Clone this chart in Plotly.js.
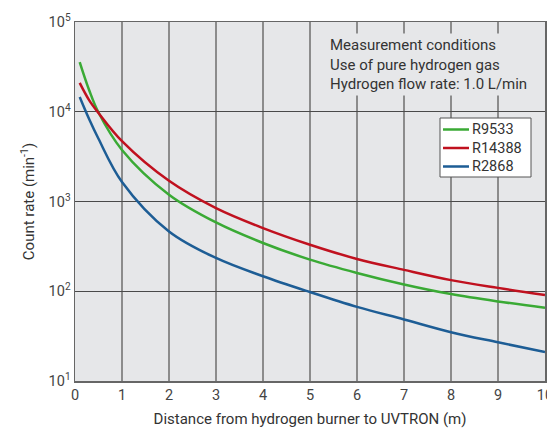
<!DOCTYPE html>
<html>
<head>
<meta charset="utf-8">
<script src="https://cdn.plot.ly/plotly-3.0.1.min.js"></script>
<style>html,body{margin:0;padding:0;background:#fff;}#chart{width:547px;height:430px;}</style>
</head>
<body>
<div id="chart"></div>
<script>
const distance = [0.1, 0.3, 0.5, 1, 2, 3, 4, 5, 6, 7, 8, 9, 10];
const r9533 = [35800, 17500, 9800, 3750, 1190, 584, 345, 225, 160, 119, 93, 77, 65.5];
const r14388 = [21000, 13500, 9700, 4700, 1700, 844, 506, 330, 229, 173, 133, 109, 91];
const r2868 = [14600, 8300, 5000, 1650, 464, 235, 147, 98, 67, 48.5, 35, 27, 21];
const seriesNames = ["R9533", "R14388", "R2868"];
const seriesColors = ["#3aaa35", "#c0111f", "#1d5d95"];
const yTickVals = [10, 100, 1000, 10000, 100000];
const yTickText = ["10<sup>1</sup>", "10<sup>2</sup>", "10<sup>3</sup>", "10<sup>4</sup>", "10<sup>5</sup>"];
const xTickVals = [0, 1, 2, 3, 4, 5, 6, 7, 8, 9, 10];
const noteLines = ["Measurement conditions", "Use of pure hydrogen gas", "Hydrogen flow rate: 1.0 L/min"];

const ys = [r9533, r14388, r2868];
const traces = ys.map((y, i) => ({
  x: distance, y: y, name: seriesNames[i], type: "scatter", mode: "lines",
  line: {color: seriesColors[i], width: 2.5, shape: "spline", smoothing: 1},
  showlegend: false
}));

// manual legend (box position in pixels converted to paper coords)
const L = 75, R = 545, T = 22, B = 381;
const px = v => (v - L) / (R - L);
const py = v => (B - v) / (B - T);
const legendRows = [129.5, 148, 166.5];
const shapes = [{
  type: "rect", xref: "paper", yref: "paper",
  x0: px(440), x1: px(531), y0: py(177), y1: py(118),
  fillcolor: "#ffffff", line: {color: "#555", width: 1}, layer: "above"
}];
const legendAnn = [];
seriesNames.forEach((n, i) => {
  shapes.push({type: "line", xref: "paper", yref: "paper",
    x0: px(443), x1: px(469), y0: py(legendRows[i]), y1: py(legendRows[i]),
    line: {color: seriesColors[i], width: 2.5}, layer: "above"});
  legendAnn.push({xref: "paper", yref: "paper", x: px(470), y: py(legendRows[i]),
    xanchor: "left", yanchor: "middle", text: n, showarrow: false,
    font: {size: 14.5, color: "#333"}});
});

const layout = {
  width: 547, height: 430,
  margin: {l: 75, r: 2, t: 22, b: 49},
  paper_bgcolor: "#ffffff",
  plot_bgcolor: "#e6e7e9",
  font: {family: "Roboto, 'Open Sans', sans-serif", size: 14, color: "#333"},
  showlegend: false,
  xaxis: {
    range: [0, 10], tickvals: xTickVals, ticks: "", ticklabeloverflow: "allow",
    showgrid: true, gridcolor: "#8c8c8c", gridwidth: 1.5,
    showline: true, linecolor: "#666", linewidth: 1.5, mirror: true,
    zeroline: false, tickfont: {size: 14.5, color: "#444"},
    title: {text: "Distance from hydrogen burner to UVTRON (m)", font: {size: 15, color: "#333"}, standoff: 10}
  },
  yaxis: {
    type: "log", range: [1, 5], tickvals: yTickVals, ticktext: yTickText, ticks: "",
    showgrid: true, gridcolor: "#4a4a4a", gridwidth: 1,
    showline: true, linecolor: "#666", linewidth: 1.5, mirror: true,
    zeroline: false, tickfont: {size: 14.5, color: "#444"},
    title: {text: "Count rate (min<sup>-1</sup>)", font: {size: 15, color: "#333"}, standoff: 10}
  },
  shapes: shapes,
  annotations: [{
    xref: "paper", yref: "paper", x: px(327), y: py(33), xanchor: "left", yanchor: "top",
    text: noteLines.join("<br>"), align: "left", showarrow: false,
    bgcolor: "#e6e7e9", borderpad: 2,
    font: {size: 15, color: "#333"}
  }].concat(legendAnn)
};

Plotly.newPlot("chart", traces, layout, {displayModeBar: false, staticPlot: true});
</script>
</body>
</html>
